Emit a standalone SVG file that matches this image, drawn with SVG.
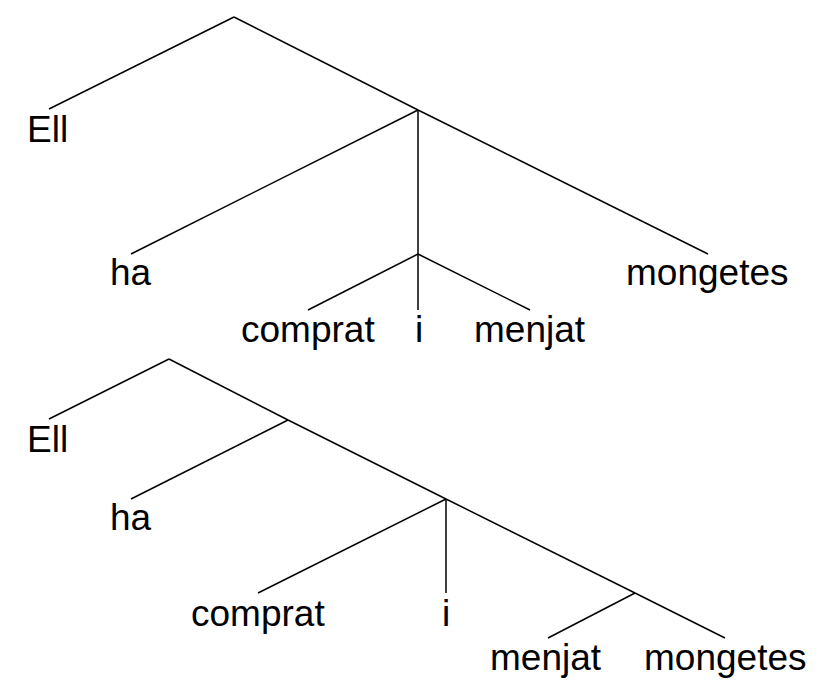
<svg xmlns="http://www.w3.org/2000/svg" width="820" height="687" viewBox="0 0 820 687">
<style>
.e{stroke:#000;stroke-width:1.5;fill:none;stroke-linecap:butt}
.t{font-family:"Liberation Sans",Arial,sans-serif;font-size:37px;fill:#000}
</style>
<rect width="820" height="687" fill="#fff"/>
<g id="connectors">
<line class="e" x1="234" y1="17" x2="49" y2="109"/>
<line class="e" x1="234" y1="17" x2="418" y2="110"/>
<line class="e" x1="418" y1="110" x2="708" y2="254"/>
<line class="e" x1="418" y1="110" x2="131" y2="254"/>
<line class="e" x1="418" y1="110" x2="418" y2="254"/>
<line class="e" x1="418" y1="254" x2="308" y2="310"/>
<line class="e" x1="418" y1="254" x2="418" y2="310"/>
<line class="e" x1="418" y1="254" x2="530" y2="310"/>
<line class="e" x1="169" y1="359" x2="49" y2="419"/>
<line class="e" x1="169" y1="359" x2="288" y2="420"/>
<line class="e" x1="288" y1="420" x2="131" y2="499"/>
<line class="e" x1="288" y1="420" x2="446" y2="499"/>
<line class="e" x1="446" y1="499" x2="258" y2="593"/>
<line class="e" x1="446" y1="499" x2="446" y2="593"/>
<line class="e" x1="446" y1="499" x2="635" y2="593"/>
<line class="e" x1="635" y1="593" x2="548" y2="638"/>
<line class="e" x1="635" y1="593" x2="725" y2="638"/>
</g>
<g id="tree1">
<g id="t1-ell"><text class="t" x="27" y="142">Ell</text></g>
<g id="t1-ha"><text class="t" x="110" y="285">ha</text></g>
<g id="t1-comprat"><text class="t" x="241" y="342">comprat</text></g>
<g id="t1-i"><text class="t" x="419" y="342" text-anchor="middle">i</text></g>
<g id="t1-menjat"><text class="t" x="474" y="342">menjat</text></g>
<g id="t1-mongetes"><text class="t" x="626" y="285">mongetes</text></g>
</g>
<g id="tree2">
<g id="t2-ell"><text class="t" x="27" y="452">Ell</text></g>
<g id="t2-ha"><text class="t" x="110" y="530">ha</text></g>
<g id="t2-comprat"><text class="t" x="191" y="626">comprat</text></g>
<g id="t2-i"><text class="t" x="446" y="626" text-anchor="middle">i</text></g>
<g id="t2-menjat"><text class="t" x="490" y="670">menjat</text></g>
<g id="t2-mongetes"><text class="t" x="644" y="670">mongetes</text></g>
</g>
</svg>
